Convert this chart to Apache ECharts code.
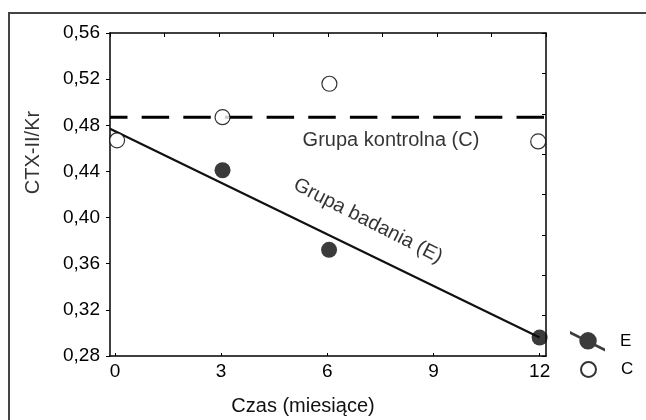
<!DOCTYPE html>
<html>
<head>
<meta charset="utf-8">
<script src="https://cdn.jsdelivr.net/npm/echarts@6/dist/echarts.min.js"></script>
<style>
  html, body { margin: 0; padding: 0; background: #fff; }
  #chart { width: 646px; height: 420px; }
</style>
</head>
<body>
<div id="chart"></div>
<script>
// months on the x axis
const xTicks = [0, 3, 6, 9, 12];
// CTX-II/Kr values
const groupE = [[3.04, 0.441], [6.05, 0.372], [12, 0.296]];
const groupC = [[0.06, 0.467], [3.04, 0.487], [6.06, 0.516], [11.96, 0.466]];
// trend for E and mean level for C
const fitE = [[-0.14, 0.477], [12, 0.296]];
const levelC = [[-0.14, 0.487], [12.18, 0.487]];
// text notes inside the plot
const noteNames = ['Grupa kontrolna (C)', 'Grupa badania (E)'];
const noteAt = [[7.8, 0.467], [7.15, 0.397]];

const font = '"Liberation Sans", Arial, sans-serif';
const chart = echarts.init(document.getElementById('chart'));

const option = {
  animation: false,
  backgroundColor: '#fff',
  textStyle: { fontFamily: font },
  grid: { left: 110, top: 33, right: 100, bottom: 64, outerBoundsMode: 'none' },
  graphic: [{
    type: 'rect',
    shape: { x: 9, y: 13, width: 700, height: 500 },
    style: { fill: 'none', stroke: '#444', lineWidth: 2 },
    silent: true
  }],
  legend: [
    {
      data: ['E'],
      left: 570, top: 331, padding: 0,
      itemWidth: 35, itemHeight: 21,
      icon: 'path://M0,0 L32,16 L32,18.8 L0,2.8 Z M24.5,9 A8,8 0 1 1 8.5,9 A8,8 0 1 1 24.5,9 Z',
      textStyle: { fontSize: 17, color: '#000', fontFamily: font, padding: [0, 0, 0, 10] }
    },
    {
      data: ['C'],
      left: 580, top: 361, padding: 0,
      itemWidth: 15, itemHeight: 15,
      icon: 'circle',
      textStyle: { fontSize: 17, color: '#000', fontFamily: font, padding: [0, 0, 0, 20] }
    }
  ],
  xAxis: [
    {
      type: 'value',
      min: -0.14, max: 12.18,
      name: 'Czas (miesiące)',
      nameLocation: 'middle',
      nameGap: 40,
      nameTextStyle: { fontSize: 20, color: '#111', padding: [0, 50, 0, 0] },
      axisLine: { onZero: false, lineStyle: { color: '#000', width: 1.5 } },
      axisTick: { inside: true, length: 3, customValues: xTicks, lineStyle: { color: '#000' } },
      axisLabel: { customValues: xTicks, fontSize: 19, color: '#000', margin: 6 },
      splitLine: { show: false }
    },
    {
      type: 'value',
      position: 'top',
      min: 0, max: 8, interval: 1,
      axisLine: { onZero: false, lineStyle: { color: '#000', width: 1.5 } },
      axisTick: { inside: true, length: 4, lineStyle: { color: '#000' } },
      axisLabel: { show: false },
      splitLine: { show: false }
    }
  ],
  yAxis: [
    {
      type: 'value',
      min: 0.28, max: 0.56, interval: 0.04,
      name: 'CTX-II/Kr',
      nameLocation: 'middle',
      nameRotate: 90,
      nameGap: 67,
      nameTextStyle: { fontSize: 20, color: '#333', padding: [0, 0, 0, 84] },
      axisLine: { show: true, onZero: false, lineStyle: { color: '#000', width: 1.5 } },
      axisTick: { show: true, length: 4, lineStyle: { color: '#000' } },
      axisLabel: {
        fontSize: 19, color: '#000', margin: 10,
        formatter: v => v.toFixed(2).replace('.', ',')
      },
      splitLine: { show: false }
    },
    {
      type: 'value',
      position: 'right',
      min: 0, max: 8, interval: 1,
      axisLine: { show: true, onZero: false, lineStyle: { color: '#000', width: 1.5 } },
      axisTick: { show: true, inside: true, length: 4, lineStyle: { color: '#000' } },
      axisLabel: { show: false },
      splitLine: { show: false }
    }
  ],
  series: [
    {
      name: 'C poziom',
      type: 'line',
      data: levelC,
      showSymbol: false,
      silent: true,
      lineStyle: { color: '#000', width: 3, type: [27.5, 14.15], dashOffset: 10 },
      z: 2
    },
    {
      name: 'E trend',
      type: 'line',
      data: fitE,
      showSymbol: false,
      silent: true,
      lineStyle: { color: '#111', width: 2.2 },
      z: 2
    },
    {
      name: 'C',
      type: 'scatter',
      data: groupC,
      symbol: 'circle',
      symbolSize: 15,
      itemStyle: { color: '#fff', borderColor: '#000', borderWidth: 1.2 },
      z: 3
    },
    {
      name: 'E',
      type: 'scatter',
      data: groupE,
      symbol: 'circle',
      symbolSize: 16,
      itemStyle: { color: '#0a0a0a' },
      z: 4
    },
    {
      name: 'opisy',
      type: 'scatter',
      silent: true,
      symbolSize: 1,
      itemStyle: { color: 'transparent' },
      data: noteNames.map((n, i) => ({
        name: n,
        value: noteAt[i],
        label: { rotate: i === 1 ? -27 : 0 }
      })),
      label: {
        show: true,
        position: 'inside',
        formatter: '{b}',
        fontSize: 20,
        color: '#000',
        fontFamily: font
      },
      z: 5
    }
  ]
};

chart.setOption(option);
</script>
</body>
</html>
